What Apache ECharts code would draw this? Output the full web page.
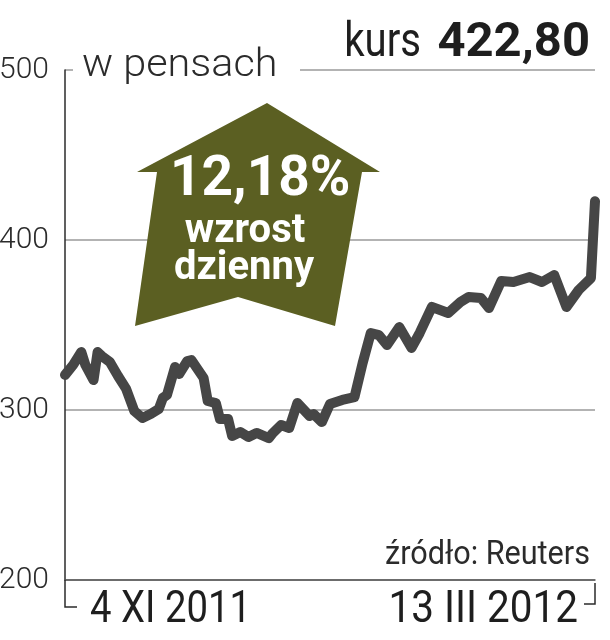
<!DOCTYPE html>
<html>
<head>
<meta charset="utf-8">
<script src="https://cdn.jsdelivr.net/npm/echarts@6/dist/echarts.min.js"></script>
<style>html,body{margin:0;padding:0;background:#fff;}#c{width:610px;height:640px;}</style>
</head>
<body>
<div id="c"></div>
<script>
// ---- data ----
const dates = ['2011-11-04','2011-11-06','2011-11-08','2011-11-09','2011-11-11','2011-11-12','2011-11-13','2011-11-15','2011-11-17','2011-11-19',
 '2011-11-21','2011-11-23','2011-11-25','2011-11-27','2011-11-28','2011-11-29','2011-12-01','2011-12-02','2011-12-04','2011-12-05',
 '2011-12-08','2011-12-09','2011-12-11','2011-12-12','2011-12-14','2011-12-15','2011-12-17','2011-12-19','2011-12-21','2011-12-24',
 '2011-12-25','2011-12-27','2011-12-29','2011-12-31','2012-01-03','2012-01-04','2012-01-06','2012-01-08','2012-01-11','2012-01-14',
 '2012-01-16','2012-01-18','2012-01-20','2012-01-22','2012-01-25','2012-01-28','2012-01-30','2012-02-02','2012-02-06','2012-02-09',
 '2012-02-11','2012-02-14','2012-02-16','2012-02-19','2012-02-22','2012-02-26','2012-02-29','2012-03-03','2012-03-06','2012-03-09',
 '2012-03-12','2012-03-13'];
const prices = [320.6,326.5,334.1,326.5,317.6,334.1,331.8,328.2,320.0,312.4,
 299.4,295.3,297.6,300.6,307.1,308.8,325.3,321.2,328.8,329.4,
 318.8,305.3,304.1,294.7,294.7,284.7,287.1,284.1,286.5,283.5,
 286.5,291.2,289.4,304.1,296.5,297.6,292.9,303.5,305.9,307.6,
 327.6,345.3,344.1,338.2,348.8,336.5,345.3,360.6,357.1,363.5,
 366.5,365.9,360.0,375.9,375.3,378.2,375.3,379.4,360.6,370.6,
 377.6,422.8];
const yMin = 200, yMax = 500, yStep = 100;
const xTickLabels = ['4 XI 2011', '13 III 2012'];
const unitLabel = 'w pensach';
const priceLabel = 'kurs';
const priceValue = '422,80';
const changeValue = '12,18%';
const changeLines = ['wzrost', 'dzienny'];
const sourceLabel = 'źródło: Reuters';

const chart = echarts.init(document.getElementById('c'), null, {renderer: 'canvas'});
const F = 'Roboto, "Noto Sans", sans-serif';
const olive = '#5b5f22';
const ink = '#2b2b2b';

function txt(t, x, y, font, align, opts) {
  return Object.assign({type: 'text', z: 11, x: x, y: y,
    style: {text: t, x: 0, y: 0, fill: (opts && opts.fill) || '#1e1e1e', font: font, align: align, verticalAlign: 'top'}},
    opts && opts.el ? opts.el : {});
}

chart.setOption({
  animation: false,
  backgroundColor: '#fff',
  grid: {left: 65, right: 15, top: 70, bottom: 60, containLabel: false, outerBoundsMode: 'none'},
  xAxis: {
    type: 'time',
    min: dates[0], max: dates[dates.length - 1],
    axisLine: {show: true, lineStyle: {color: '#555', width: 1.5}},
    axisTick: {show: false},
    axisLabel: {show: false},
    splitLine: {show: false}
  },
  yAxis: {
    type: 'value',
    min: yMin, max: yMax, interval: yStep,
    axisLine: {show: true, lineStyle: {color: ink, width: 1.5}},
    axisTick: {show: false},
    axisLabel: {
      margin: 16, color: ink, fontSize: 30, fontWeight: 300,
      fontFamily: F
    },
    splitLine: {show: true, lineStyle: {color: '#9a9a9a', width: 1.5}}
  },
  series: [{
    type: 'line',
    data: dates.map((d, i) => [d, prices[i]]),
    showSymbol: false,
    lineStyle: {color: '#464646', width: 10, cap: 'round', join: 'round'},
    z: 3
  }],
  graphic: [
    {type: 'rect', z: 10, shape: {x: 73, y: 56, width: 227, height: 26}, style: {fill: '#fff'}},
    txt(unitLabel, 82, 47, '300 39px ' + F, 'left', {fill: ink, el: {scaleX: 1.06}}),
    txt(priceValue, 590, 19, 'bold 49px ' + F, 'right'),
    txt(priceLabel, 421, 19, 'normal 49px ' + F, 'right', {el: {scaleX: 0.82}}),
    {type: 'polygon', z: 5,
      shape: {points: [[267,103],[380,172],[362,172],[335,326],[238,297],[135,326],[157,172],[137,172]]},
      style: {fill: olive}},
    txt(changeValue, 170, 154, 'bold 55px ' + F, 'left', {fill: '#fff'}),
    txt(changeLines[0], 245, 212, 'bold 40px ' + F, 'center', {fill: '#fff'}),
    txt(changeLines[1], 244, 249, 'bold 40px ' + F, 'center', {fill: '#fff'}),
    txt(sourceLabel, 590, 538, 'normal 34px ' + F, 'right', {fill: ink, el: {scaleX: 0.9}}),
    {type: 'polyline', z: 11, shape: {points: [[65,580],[65,607],[77,607]]}, style: {stroke: ink, lineWidth: 1.5, fill: null}},
    {type: 'polyline', z: 11, shape: {points: [[595,583],[595,604],[584,604]]}, style: {stroke: ink, lineWidth: 1.5, fill: null}},
    txt(xTickLabels[0], 90, 589, 'normal 44px ' + F, 'left', {el: {scaleX: 0.87}}),
    txt(xTickLabels[1], 578, 589, 'normal 44px ' + F, 'right', {el: {scaleX: 0.92}})
  ]
});
</script>
</body>
</html>
